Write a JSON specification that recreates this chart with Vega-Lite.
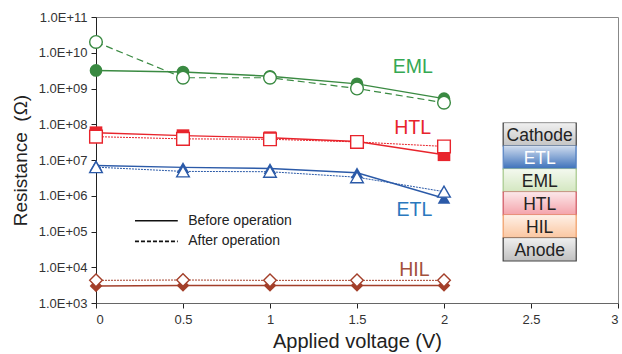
{
  "$schema": "https://vega.github.io/schema/vega-lite/v6.json",
  "width": 522,
  "height": 286,
  "autosize": {"type": "none"},
  "padding": {"left": 96, "top": 17, "right": 4, "bottom": 51},
  "config": {
    "font": "Liberation Sans",
    "view": {"stroke": "#888", "strokeWidth": 1},
    "axis": {"grid": false, "domainColor": "#222", "tickColor": "#222", "labelColor": "#333", "titleColor": "#222", "labelFont": "Liberation Sans", "titleFont": "Liberation Sans", "titleFontWeight": "normal"}
  },
  "datasets": {
    "series": [
      {"layer": "EML", "cond": "before", "v": 0, "r": 3.2e9},
      {"layer": "EML", "cond": "before", "v": 0.5, "r": 2.9e9},
      {"layer": "EML", "cond": "before", "v": 1, "r": 2.2e9},
      {"layer": "EML", "cond": "before", "v": 1.5, "r": 1.35e9},
      {"layer": "EML", "cond": "before", "v": 2, "r": 5.2e8},
      {"layer": "EML", "cond": "after", "v": 0, "r": 2.0e10},
      {"layer": "EML", "cond": "after", "v": 0.5, "r": 2.0e9},
      {"layer": "EML", "cond": "after", "v": 1, "r": 2.0e9},
      {"layer": "EML", "cond": "after", "v": 1.5, "r": 1.0e9},
      {"layer": "EML", "cond": "after", "v": 2, "r": 4.0e8},
      {"layer": "HTL", "cond": "before", "v": 0, "r": 5.8e7},
      {"layer": "HTL", "cond": "before", "v": 0.5, "r": 4.8e7},
      {"layer": "HTL", "cond": "before", "v": 1, "r": 4.2e7},
      {"layer": "HTL", "cond": "before", "v": 1.5, "r": 3.3e7},
      {"layer": "HTL", "cond": "before", "v": 2, "r": 1.4e7},
      {"layer": "HTL", "cond": "after", "v": 0, "r": 4.5e7},
      {"layer": "HTL", "cond": "after", "v": 0.5, "r": 3.9e7},
      {"layer": "HTL", "cond": "after", "v": 1, "r": 3.8e7},
      {"layer": "HTL", "cond": "after", "v": 1.5, "r": 3.2e7},
      {"layer": "HTL", "cond": "after", "v": 2, "r": 2.4e7},
      {"layer": "ETL", "cond": "before", "v": 0, "r": 7.0e6},
      {"layer": "ETL", "cond": "before", "v": 0.5, "r": 6.2e6},
      {"layer": "ETL", "cond": "before", "v": 1, "r": 5.8e6},
      {"layer": "ETL", "cond": "before", "v": 1.5, "r": 4.4e6},
      {"layer": "ETL", "cond": "before", "v": 2, "r": 8.5e5},
      {"layer": "ETL", "cond": "after", "v": 0, "r": 6.3e6},
      {"layer": "ETL", "cond": "after", "v": 0.5, "r": 4.8e6},
      {"layer": "ETL", "cond": "after", "v": 1, "r": 4.7e6},
      {"layer": "ETL", "cond": "after", "v": 1.5, "r": 3.3e6},
      {"layer": "ETL", "cond": "after", "v": 2, "r": 1.3e6},
      {"layer": "HIL", "cond": "before", "v": 0, "r": 3.0e3},
      {"layer": "HIL", "cond": "before", "v": 0.5, "r": 3.1e3},
      {"layer": "HIL", "cond": "before", "v": 1, "r": 3.1e3},
      {"layer": "HIL", "cond": "before", "v": 1.5, "r": 3.1e3},
      {"layer": "HIL", "cond": "before", "v": 2, "r": 3.1e3},
      {"layer": "HIL", "cond": "after", "v": 0, "r": 4.3e3},
      {"layer": "HIL", "cond": "after", "v": 0.5, "r": 4.4e3},
      {"layer": "HIL", "cond": "after", "v": 1, "r": 4.3e3},
      {"layer": "HIL", "cond": "after", "v": 1.5, "r": 4.3e3},
      {"layer": "HIL", "cond": "after", "v": 2, "r": 4.3e3}
    ],
    "legend": [
      {"label": "Before operation", "cond": "before", "y": 2.0e5},
      {"label": "After operation", "cond": "after", "y": 5.3e4}
    ],
    "labels": [
      {"label": "EML", "x": 1.82, "y": 4.0e9},
      {"label": "HTL", "x": 1.82, "y": 7.8e7},
      {"label": "ETL", "x": 1.83, "y": 3.9e5},
      {"label": "HIL", "x": 1.83, "y": 8.2e3}
    ],
    "stack": [
      {"name": "Cathode"},
      {"name": "ETL"},
      {"name": "EML"},
      {"name": "HTL"},
      {"name": "HIL"},
      {"name": "Anode"}
    ]
  },
  "layer": [
    {
      "data": {"name": "series"},
      "layer": [
        {
          "transform": [{"filter": "datum.cond === 'before'"}],
          "mark": {"type": "line", "strokeWidth": 1.4},
          "encoding": {
            "x": {"field": "v", "type": "quantitative", "scale": {"domain": [0, 3]},
              "axis": {"values": [0, 0.5, 1, 1.5, 2, 2.5, 3], "format": "~g", "title": "Applied voltage (V)", "titleFontSize": 20, "labelFontSize": 13, "tickSize": 5, "labelPadding": 5, "titlePadding": 5, "domainColor": "#666"}},
            "y": {"field": "r", "type": "quantitative", "scale": {"type": "log", "domain": [1000, 100000000000]},
              "axis": {"values": [1000, 10000, 100000, 1000000, 10000000, 100000000, 1000000000, 10000000000, 100000000000],
                "labelExpr": "'1.0E+' + (round(log(datum.value)/LN10) < 10 ? '0' : '') + round(log(datum.value)/LN10)",
                "title": "Resistance\u00a0\u00a0(Ω)", "titleFontSize": 19, "labelFontSize": 13, "tickSize": 5, "labelPadding": 4, "titlePadding": 8}},
            "color": {"field": "layer", "type": "nominal", "scale": {"domain": ["EML", "HTL", "ETL", "HIL"], "range": ["#3a8a42", "#e8242c", "#2b5aa8", "#a33f2a"]}, "legend": null},
            "detail": {"field": "layer"}
          }
        },
        {
          "transform": [{"filter": "datum.cond === 'after' && datum.layer === 'EML'"}],
          "mark": {"type": "line", "strokeWidth": 1.2, "strokeDash": [7, 4]},
          "encoding": {
            "x": {"field": "v", "type": "quantitative"},
            "y": {"field": "r", "type": "quantitative"},
            "color": {"field": "layer", "type": "nominal", "legend": null}
          }
        },
        {
          "transform": [{"filter": "datum.cond === 'after' && datum.layer !== 'EML'"}],
          "mark": {"type": "line", "strokeWidth": 1, "strokeDash": [2, 1]},
          "encoding": {
            "x": {"field": "v", "type": "quantitative"},
            "y": {"field": "r", "type": "quantitative"},
            "color": {"field": "layer", "type": "nominal", "legend": null},
            "detail": {"field": "layer"}
          }
        },
        {
          "transform": [{"filter": "datum.cond === 'before'"}],
          "mark": {"type": "point", "filled": true, "size": 160, "opacity": 1},
          "encoding": {
            "x": {"field": "v", "type": "quantitative"},
            "y": {"field": "r", "type": "quantitative"},
            "color": {"field": "layer", "type": "nominal", "legend": null},
            "shape": {"field": "layer", "type": "nominal", "scale": {"domain": ["EML", "HTL", "ETL", "HIL"], "range": ["circle", "square", "triangle-up", "diamond"]}, "legend": null}
          }
        },
        {
          "transform": [{"filter": "datum.cond === 'after'"}],
          "mark": {"type": "point", "filled": false, "fill": "white", "fillOpacity": 1, "size": 160, "strokeWidth": 1.4, "opacity": 1},
          "encoding": {
            "x": {"field": "v", "type": "quantitative"},
            "y": {"field": "r", "type": "quantitative"},
            "color": {"field": "layer", "type": "nominal", "legend": null},
            "shape": {"field": "layer", "type": "nominal", "legend": null}
          }
        },
        {
          "data": {"name": "legend"},
          "mark": {"type": "rule", "color": "#111", "strokeWidth": 1.6},
          "encoding": {
            "x": {"datum": 0.224},
            "x2": {"datum": 0.47},
            "y": {"field": "y", "type": "quantitative"},
            "strokeDash": {"condition": {"test": "datum.cond === 'after'", "value": [4, 2]}, "value": [1, 0]}
          }
        },
        {
          "data": {"name": "legend"},
          "mark": {"type": "text", "align": "left", "baseline": "middle", "fontSize": 14, "color": "#222"},
          "encoding": {
            "x": {"datum": 0.53},
            "y": {"field": "y", "type": "quantitative"},
            "text": {"field": "label"}
          }
        },
        {
          "data": {"name": "labels"},
          "mark": {"type": "text", "align": "center", "baseline": "middle", "fontSize": 19.5},
          "encoding": {
            "x": {"field": "x", "type": "quantitative"},
            "y": {"field": "y", "type": "quantitative"},
            "text": {"field": "label"},
            "fill": {"field": "label", "type": "nominal", "scale": {"domain": ["EML", "HTL", "ETL", "HIL"], "range": ["#35a853", "#e8242c", "#2a78be", "#a3503c"]}, "legend": null}
          }
        }
      ]
    },
    {
      "data": {"name": "stack"},
      "layer": [
        {
          "mark": {"type": "rect", "strokeWidth": 1.2},
          "encoding": {
            "x": {"datum": 2.34},
            "x2": {"datum": 2.76},
            "y": {"field": "name", "type": "nominal", "sort": null, "scale": {"domain": ["Cathode", "ETL", "EML", "HTL", "HIL", "Anode"], "range": [106, 244], "paddingInner": 0, "paddingOuter": 0}, "axis": null},
            "fill": {"field": "name", "type": "nominal", "scale": {"domain": ["Cathode", "ETL", "EML", "HTL", "HIL", "Anode"], "range": ["#c4c4c4", "#3b70ba", "#d3e7c0", "#f4a3aa", "#fbc6a0", "#c0c0c0"]}, "legend": null},
            "stroke": {"field": "name", "type": "nominal", "scale": {"domain": ["Cathode", "ETL", "EML", "HTL", "HIL", "Anode"], "range": ["#444444", "#6a90c8", "#a8c98e", "#cf5a64", "#f0a06c", "#444444"]}, "legend": null}
          }
        },
        {
          "mark": {"type": "rect", "fill": {"gradient": "linear", "x1": 0, "y1": 0, "x2": 0, "y2": 1, "stops": [{"offset": 0, "color": "rgba(255,255,255,0.75)"}, {"offset": 1, "color": "rgba(255,255,255,0)"}]}},
          "encoding": {
            "x": {"datum": 2.345},
            "x2": {"datum": 2.755},
            "y": {"field": "name", "type": "nominal", "sort": null}
          }
        },
        {
          "mark": {"type": "text", "fontSize": 17.5, "align": "center", "baseline": "middle", "dy": 1},
          "encoding": {
            "x": {"datum": 2.55},
            "y": {"field": "name", "type": "nominal", "sort": null, "band": 0.5},
            "text": {"field": "name"},
            "color": {"condition": {"test": "datum.name === 'ETL'", "value": "#ffffff"}, "value": "#222222"}
          }
        }
      ]
    }
  ],
  "resolve": {"scale": {"y": "independent", "fill": "independent", "stroke": "independent"}}
}
